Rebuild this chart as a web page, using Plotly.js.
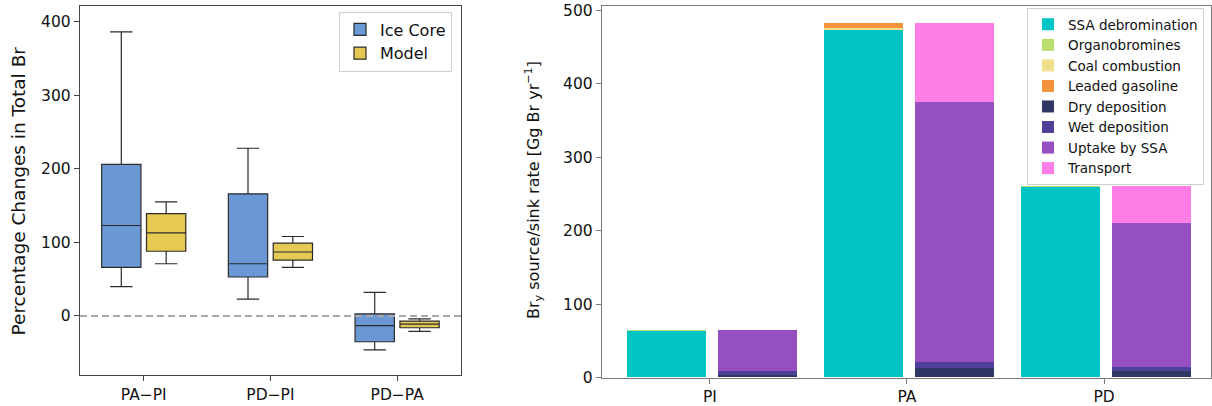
<!DOCTYPE html>
<html><head><meta charset="utf-8">
<script src="https://cdn.plot.ly/plotly-3.0.1.min.js"></script>
<style>html,body{margin:0;padding:0;background:#fff}#chart{width:1212px;height:406px}</style>
</head><body><div id="chart"></div>
<script>
// ---- Left panel: percentage changes in total Br (box statistics) ----
const boxCategories = ['PA\u2212PI', 'PD\u2212PI', 'PD\u2212PA'];
const iceLow    = [40, 23, -46];
const iceQ1     = [66, 53, -35];
const iceMedian = [123, 71, -13];
const iceQ3     = [206, 166, 3];
const iceHigh   = [386, 228, 32];
const modelLow    = [71, 66, -21];
const modelQ1     = [88, 76, -16];
const modelMedian = [113, 87, -11];
const modelQ3     = [139, 99, -7];
const modelHigh   = [155, 108, -4];
const leftTicks = [0, 100, 200, 300, 400];

// ---- Right panel: Bry source / sink rates [Gg Br yr-1] ----
const periods = ['PI', 'PA', 'PD'];
const ssaDebromination = [63.8, 473.4, 260.0];
const organobromines   = [1.0, 0.5, 1.2];
const coalCombustion   = [0.0, 2.5, 0.1];
const leadedGasoline   = [0.0, 6.4, 0.1];
const dryDeposition    = [3.4, 13.4, 8.9];
const wetDeposition    = [5.9, 7.3, 5.0];
const uptakeBySSA      = [55.0, 354.6, 196.6];
const transport        = [0.5, 107.3, 50.8];
const rightTicks = [0, 100, 200, 300, 400, 500];

// positions (category index shifted to the source / sink slot)
const SRC_SHIFT = -0.22, SINK_SHIFT = 0.24, BAR_W = 0.4;
const idx = periods.map((_, i) => i);
const srcX = idx.map(i => i + SRC_SHIFT);
const sinkX = idx.map(i => i + SINK_SHIFT);

const FONT = 'DejaVu Sans, Liberation Sans, sans-serif';
const EDGE = '#2b2b2b';

const traces = [];
traces.push({
  type: 'box', name: 'Ice Core', x: boxCategories,
  lowerfence: iceLow, q1: iceQ1, median: iceMedian, q3: iceQ3, upperfence: iceHigh,
  fillcolor: 'rgb(106,152,212)', line: {color: EDGE, width: 1.2},
  whiskerwidth: 0.57, boxpoints: false, xaxis: 'x', yaxis: 'y', legend: 'legend'
});
traces.push({
  type: 'box', name: 'Model', x: boxCategories,
  lowerfence: modelLow, q1: modelQ1, median: modelMedian, q3: modelQ3, upperfence: modelHigh,
  fillcolor: 'rgb(230,201,82)', line: {color: EDGE, width: 1.2},
  whiskerwidth: 0.57, boxpoints: false, xaxis: 'x', yaxis: 'y', legend: 'legend'
});

function bar(name, xs, ys, color) {
  return {type: 'bar', name: name, x: xs, y: ys, width: BAR_W,
    marker: {color: color, line: {width: 0}},
    xaxis: 'x2', yaxis: 'y2', legend: 'legend2'};
}
traces.push(bar('SSA debromination', srcX, ssaDebromination, 'rgb(0,197,196)'));
traces.push(bar('Organobromines', srcX, organobromines, 'rgb(184,224,112)'));
traces.push(bar('Coal combustion', srcX, coalCombustion, 'rgb(240,224,140)'));
traces.push(bar('Leaded gasoline', srcX, leadedGasoline, 'rgb(245,146,58)'));
traces.push(bar('Dry deposition', sinkX, dryDeposition, 'rgb(48,55,101)'));
traces.push(bar('Wet deposition', sinkX, wetDeposition, 'rgb(78,63,153)'));
traces.push(bar('Uptake by SSA', sinkX, uptakeBySSA, 'rgb(150,79,193)'));
traces.push(bar('Transport', sinkX, transport, 'rgb(255,126,230)'));

const W = 1212, H = 406;
const axBase = {
  showline: true, mirror: true, linewidth: 1.2, showgrid: false, zeroline: false,
  ticks: 'outside', ticklen: 5, tickwidth: 1, tickfont: {family: FONT, size: 15.5, color: '#111'}
};

const layout = {
  width: W, height: H, margin: {l: 0, r: 0, t: 0, b: 0},
  paper_bgcolor: '#fff', plot_bgcolor: '#fff',
  font: {family: FONT, color: '#111'},
  boxmode: 'group', boxgap: 0.292, boxgroupgap: 0.124,
  barmode: 'stack',
  xaxis: Object.assign({}, axBase, {
    domain: [80 / W, 461 / W], anchor: 'y', type: 'category',
    range: [-0.503, 2.504], linecolor: '#444', tickcolor: '#444'
  }),
  yaxis: Object.assign({}, axBase, {
    domain: [(H - 375) / H, (H - 6) / H], anchor: 'x',
    range: [-80.2, 421.3], tickvals: leftTicks, ticktext: leftTicks.map(String),
    linecolor: '#444', tickcolor: '#444'
  }),
  xaxis2: Object.assign({}, axBase, {
    domain: [602 / W, 1211 / W], anchor: 'y2',
    range: [-0.548, 2.543], tickvals: idx, ticktext: periods,
    linecolor: '#7a7a7a', tickcolor: '#7a7a7a'
  }),
  yaxis2: Object.assign({}, axBase, {
    domain: [(H - 377.5) / H, (H - 5.7) / H], anchor: 'x2',
    range: [0, 506.5], tickvals: rightTicks, ticktext: rightTicks.map(String),
    linecolor: '#7a7a7a', tickcolor: '#7a7a7a'
  }),
  shapes: [{
    type: 'line', xref: 'x domain', x0: 0, x1: 1, yref: 'y', y0: 0, y1: 0,
    line: {color: '#a8a8a8', width: 1.8, dash: '7px,4px'}, layer: 'above'
  }],
  legend: {
    x: 452 / W, xanchor: 'right', y: (H - 11.5) / H, yanchor: 'top',
    bgcolor: 'rgba(255,255,255,0.9)', bordercolor: '#d0d0d0', borderwidth: 1,
    font: {family: FONT, size: 16, color: '#111'}, traceorder: 'normal'
  },
  legend2: {
    x: 1204 / W, xanchor: 'right', y: (H - 8) / H, yanchor: 'top',
    bgcolor: 'rgba(255,255,255,0.9)', bordercolor: '#d0d0d0', borderwidth: 1,
    font: {family: FONT, size: 13.5, color: '#111'}, traceorder: 'normal',
    tracegroupgap: 0
  },
  annotations: [{
    text: 'Percentage Changes in Total Br', textangle: -90,
    xref: 'paper', yref: 'paper', x: 17.5 / W, y: (H - 191) / H,
    xanchor: 'center', yanchor: 'middle', showarrow: false,
    font: {family: FONT, size: 18.5, color: '#111'}
  }, {
    text: 'Br<sub>y</sub> source/sink rate [Gg Br yr<sup>\u22121</sup>]', textangle: -90,
    xref: 'paper', yref: 'paper', x: 533 / W, y: (H - 190) / H,
    xanchor: 'center', yanchor: 'middle', showarrow: false,
    font: {family: FONT, size: 16, color: '#111'}
  }]
};

Plotly.newPlot('chart', traces, layout, {displayModeBar: false, staticPlot: true});
</script>
</body></html>
